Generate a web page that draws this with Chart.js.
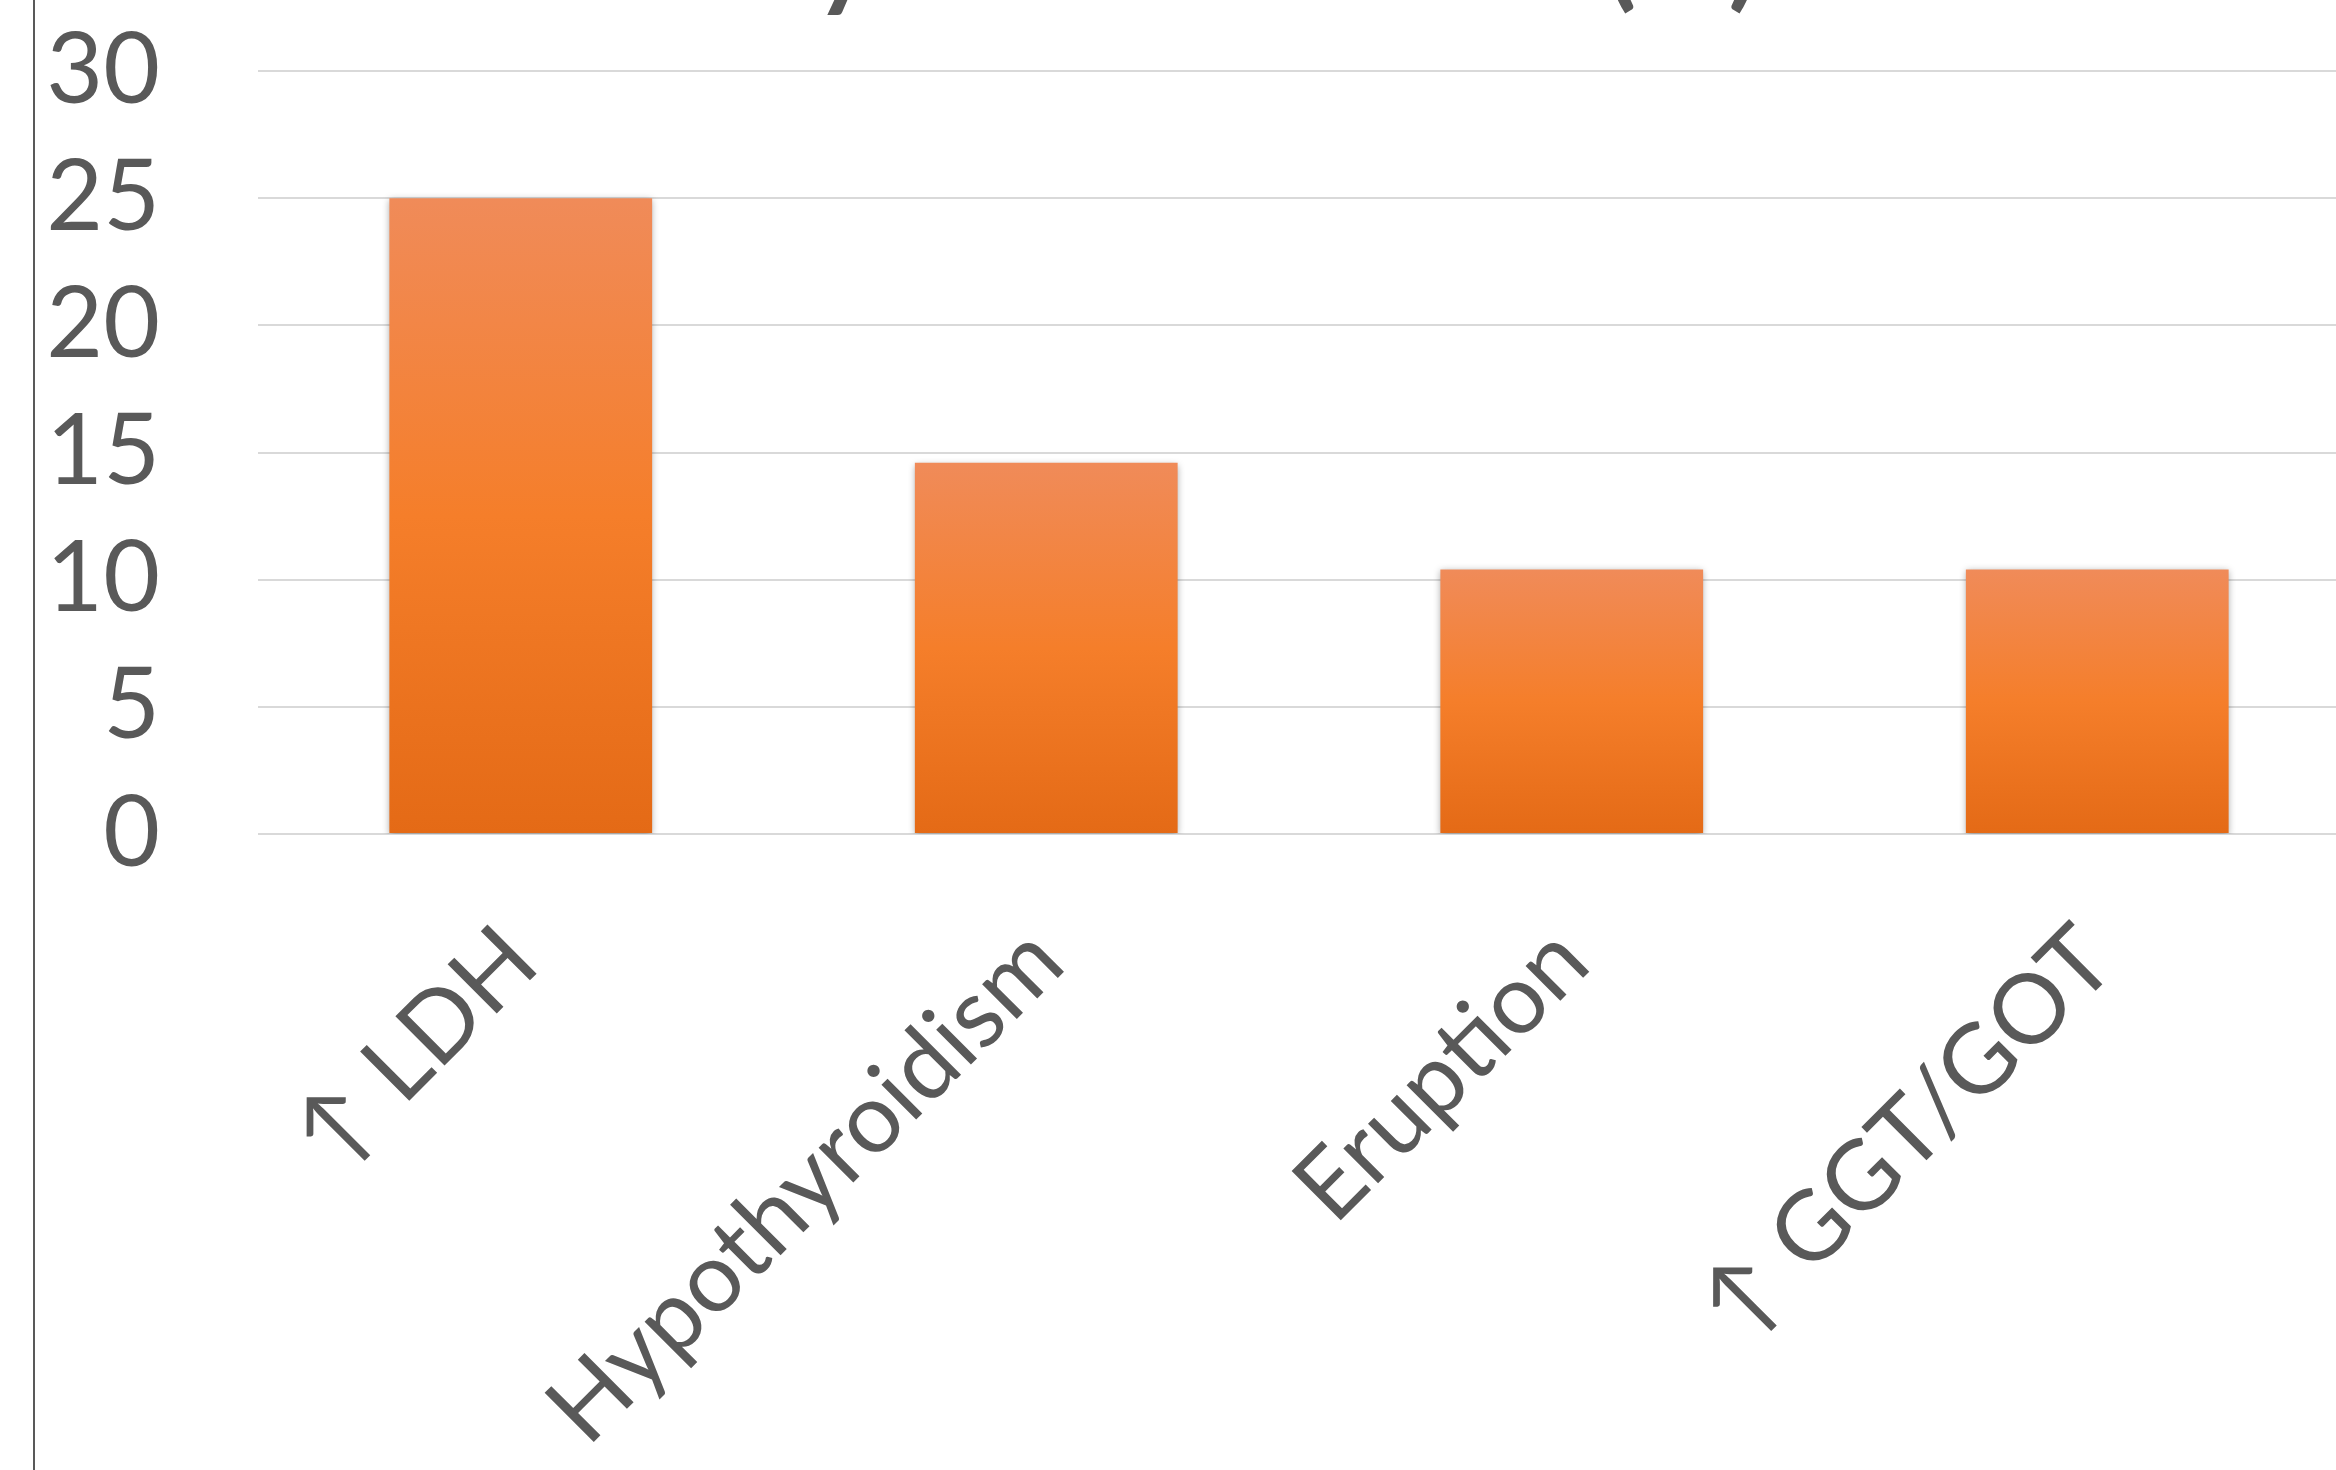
<!DOCTYPE html>
<html>
<head>
<meta charset="utf-8">
<script src="https://cdn.jsdelivr.net/npm/chart.js@4.4.1/dist/chart.umd.min.js"></script>
<style>
  html, body { margin: 0; padding: 0; background: #fff; overflow: hidden; }
  body { width: 2336px; height: 1470px; position: relative; }
  #frame { position: absolute; left: 33px; top: 0; width: 2px; height: 1470px; background: #595959; }
  #wrap { position: absolute; left: 0; top: -150px; width: 2362px; height: 1620px; }
</style>
</head>
<body>
<div id="wrap"><canvas id="chart"></canvas></div>
<div id="frame"></div>
<script>
// data
const categories = ['\u2191 LDH', 'Hypothyroidism', 'Eruption', '\u2191 GGT/GOT'];
const values = [25, 14.6, 10.4, 10.4];
const yMin = 0;
const yMax = 30;
const yStep = 5;
const titleText = 'Laboratory abnormalities (%)';

const textColor = '#595959';
const gridColor = '#d9d9d9';

function barGradient(ctx) {
  const chart = ctx.chart;
  if (!chart.chartArea || ctx.type !== 'data') return '#f47d2a';
  const y = chart.scales.y;
  const top = y.getPixelForValue(ctx.raw);
  const bottom = y.getPixelForValue(0);
  const g = chart.ctx.createLinearGradient(0, top, 0, bottom);
  g.addColorStop(0, '#f08b59');
  g.addColorStop(0.5, '#f57e2a');
  g.addColorStop(1, '#e46a16');
  return g;
}

// soft outer shadow under the bars
const barShadow = {
  id: 'barShadow',
  beforeDatasetsDraw(chart) {
    const c = chart.ctx;
    c.save();
    c.shadowColor = 'rgba(0,0,0,0.35)';
    c.shadowBlur = 7;
    c.shadowOffsetY = 2;
  },
  afterDatasetsDraw(chart) {
    chart.ctx.restore();
  }
};

// title sits mostly above the visible page, only descenders show
const cutTitle = {
  id: 'cutTitle',
  afterDraw(chart) {
    const c = chart.ctx;
    c.save();
    c.font = 'bold 112px Lato';
    c.fillStyle = textColor;
    c.textAlign = 'right';
    c.textBaseline = 'alphabetic';
    c.fillText(titleText, 1759, 146);
    c.restore();
  }
};

new Chart(document.getElementById('chart'), {
  type: 'bar',
  data: {
    labels: categories,
    datasets: [{
      data: values,
      backgroundColor: barGradient,
      borderWidth: 0,
      barPercentage: 0.5,
      categoryPercentage: 1
    }]
  },
  options: {
    responsive: true,
    maintainAspectRatio: false,
    animation: false,
    layout: { padding: { top: 221, right: 2, left: 0, bottom: 0 } },
    plugins: {
      legend: { display: false },
      tooltip: { enabled: false }
    },
    scales: {
      x: {
        grid: { display: false },
        border: { display: false },
        ticks: {
          color: textColor,
          font: { family: 'Lato', size: 97 },
          minRotation: 45,
          maxRotation: 45,
          padding: 62
        },
        afterFit(scale) { scale.height = 636; }
      },
      y: {
        min: yMin,
        max: yMax,
        grid: { color: gridColor, lineWidth: 2, drawTicks: false },
        border: { display: false },
        ticks: {
          stepSize: yStep,
          color: textColor,
          font: { family: 'Lato', size: 98 },
          padding: 98
        },
        afterFit(scale) { scale.width = 258; }
      }
    }
  },
  plugins: [barShadow, cutTitle]
});
</script>
</body>
</html>
